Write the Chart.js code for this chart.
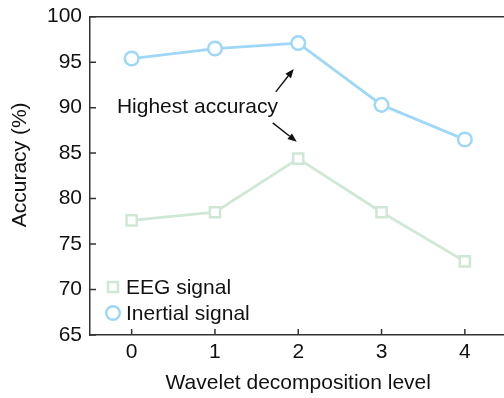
<!DOCTYPE html>
<html>
<head>
    <title>Accuracy vs wavelet decomposition level</title>
    <style>
        body {
            margin: 0;
            background: #fff;
            overflow: hidden;
        }
        #wrap {
            width: 504px;
            height: 398px;
            overflow: hidden;
        }
    </style>
</head>
<body>
<div id="wrap">
    <canvas id="accChart" width="508" height="398"></canvas>
</div>

<script src="https://cdn.jsdelivr.net/npm/chart.js"></script>

<script>
    // values
    const levels = [0, 1, 2, 3, 4];
    const eegAcc = [77.6, 78.5, 84.4, 78.5, 73.1];
    const inertialAcc = [95.4, 96.5, 97.1, 90.3, 86.5];
    const yTicks = [65, 70, 75, 80, 85, 90, 95, 100];
    const seriesNames = ['EEG signal', 'Inertial signal'];
    const yTitle = 'Accuracy (%)';
    const noteText = 'Highest accuracy';
    const notePos = [0.79, 90.0];
    // arrows in data units: [fromX, fromY, toX, toY]
    const noteArrows = [
        [1.73, 91.74, 1.946, 94.26],
        [1.694, 88.33, 1.982, 86.24]
    ];

    const FONT = 'Arial, "Liberation Sans", sans-serif';
    const eegColor = '#cfe8d6';
    const inertialColor = '#9fd7f6';
    const inkColor = '#111';
    const axisColor = '#333';

    const extras = {
        id: 'extras',
        afterDraw(chart) {
            const ctx = chart.ctx;
            const area = chart.chartArea;
            const xs = chart.scales.x;
            const ys = chart.scales.y;
            ctx.save();

            // top frame line
            ctx.strokeStyle = axisColor;
            ctx.lineWidth = 1.5;
            ctx.beginPath();
            ctx.moveTo(area.left, area.top);
            ctx.lineTo(area.right + 2, area.top);
            ctx.stroke();

            // inward tick marks
            ctx.beginPath();
            yTicks.forEach(v => {
                const py = ys.getPixelForValue(v);
                ctx.moveTo(area.left, py);
                ctx.lineTo(area.left + 6, py);
            });
            levels.forEach(v => {
                const px = xs.getPixelForValue(v);
                ctx.moveTo(px, area.bottom);
                ctx.lineTo(px, area.bottom - 6);
            });
            ctx.stroke();

            ctx.fillStyle = inkColor;
            ctx.font = '21px ' + FONT;

            // y axis title, a little above the middle as in the figure
            ctx.save();
            ctx.translate(25.5, (area.top + area.bottom) / 2 - 11);
            ctx.rotate(-Math.PI / 2);
            ctx.textAlign = 'center';
            ctx.textBaseline = 'alphabetic';
            ctx.fillText(yTitle, 0, 0);
            ctx.restore();

            // annotation text
            ctx.textAlign = 'center';
            ctx.textBaseline = 'middle';
            ctx.fillText(noteText, xs.getPixelForValue(notePos[0]), ys.getPixelForValue(notePos[1]));

            // arrows
            ctx.strokeStyle = inkColor;
            ctx.lineWidth = 1.4;
            noteArrows.forEach(a => {
                const x0 = xs.getPixelForValue(a[0]), y0 = ys.getPixelForValue(a[1]);
                const x1 = xs.getPixelForValue(a[2]), y1 = ys.getPixelForValue(a[3]);
                const ang = Math.atan2(y1 - y0, x1 - x0);
                const len = 9, half = 3.6;
                const bx = x1 - len * Math.cos(ang), by = y1 - len * Math.sin(ang);
                ctx.beginPath();
                ctx.moveTo(x0, y0);
                ctx.lineTo(bx, by);
                ctx.stroke();
                ctx.beginPath();
                ctx.moveTo(x1, y1);
                ctx.lineTo(bx + half * Math.sin(ang), by - half * Math.cos(ang));
                ctx.lineTo(bx - half * Math.sin(ang), by + half * Math.cos(ang));
                ctx.closePath();
                ctx.fill();
            });

            // legend, bottom left inside the frame
            const lx = area.left + 23;
            const rows = [area.bottom - 48, area.bottom - 22];
            ctx.textAlign = 'left';
            ctx.lineWidth = 2.5;
            chart.data.datasets.forEach((ds, i) => {
                const cy = rows[i];
                ctx.strokeStyle = ds.borderColor;
                ctx.fillStyle = '#fff';
                ctx.beginPath();
                if (ds.pointStyle === 'rect') {
                    ctx.rect(lx - 5, cy - 5, 10, 10);
                } else {
                    ctx.arc(lx, cy, 6.8, 0, Math.PI * 2);
                }
                ctx.fill();
                ctx.stroke();
                ctx.fillStyle = inkColor;
                ctx.fillText(ds.label, lx + 13, cy + 1);
            });
            ctx.restore();
        }
    };

    const ctx = document.getElementById('accChart').getContext('2d');
    new Chart(ctx, {
        type: 'line',
        data: {
            datasets: [{
                label: seriesNames[0],
                data: levels.map((l, i) => ({x: l, y: eegAcc[i]})),
                borderColor: eegColor,
                backgroundColor: '#fff',
                borderWidth: 2.8,
                pointStyle: 'rect',
                pointRadius: 7.2,
                pointBorderWidth: 2.5,
                pointBackgroundColor: '#fff',
                tension: 0
            }, {
                label: seriesNames[1],
                data: levels.map((l, i) => ({x: l, y: inertialAcc[i]})),
                borderColor: inertialColor,
                backgroundColor: '#fff',
                borderWidth: 2.8,
                pointStyle: 'circle',
                pointRadius: 6.8,
                pointBorderWidth: 2.5,
                pointBackgroundColor: '#fff',
                tension: 0
            }]
        },
        options: {
            responsive: false,
            animation: false,
            events: [],
            layout: {
                autoPadding: false,
                padding: {top: 16.7, right: 1.5, left: 0, bottom: 0}
            },
            plugins: {
                legend: {display: false},
                tooltip: {enabled: false}
            },
            scales: {
                x: {
                    type: 'linear',
                    min: -0.5,
                    max: 4.5,
                    afterBuildTicks: scale => {
                        scale.ticks = levels.map(v => ({value: v}));
                    },
                    afterFit: scale => {
                        scale.height = 63;
                        scale.paddingLeft = 0;
                        scale.paddingRight = 0;
                    },
                    grid: {display: false, drawTicks: false},
                    border: {display: true, color: axisColor, width: 1.5},
                    ticks: {
                        color: inkColor,
                        font: {family: FONT, size: 21},
                        padding: 5,
                        maxRotation: 0
                    },
                    title: {
                        display: true,
                        text: 'Wavelet decomposition level',
                        color: inkColor,
                        font: {family: FONT, size: 21},
                        padding: {top: 4, bottom: 2.5}
                    }
                },
                y: {
                    min: 65,
                    max: 100,
                    afterBuildTicks: scale => {
                        scale.ticks = yTicks.map(v => ({value: v}));
                    },
                    afterFit: scale => {
                        scale.width = 90;
                        scale.paddingTop = 0;
                        scale.paddingBottom = 0;
                    },
                    grid: {display: false, drawTicks: false},
                    border: {display: true, color: axisColor, width: 1.5},
                    ticks: {
                        color: inkColor,
                        font: {family: FONT, size: 21},
                        padding: 8
                    }
                }
            }
        },
        plugins: [extras]
    });
</script>
</body>
</html>
